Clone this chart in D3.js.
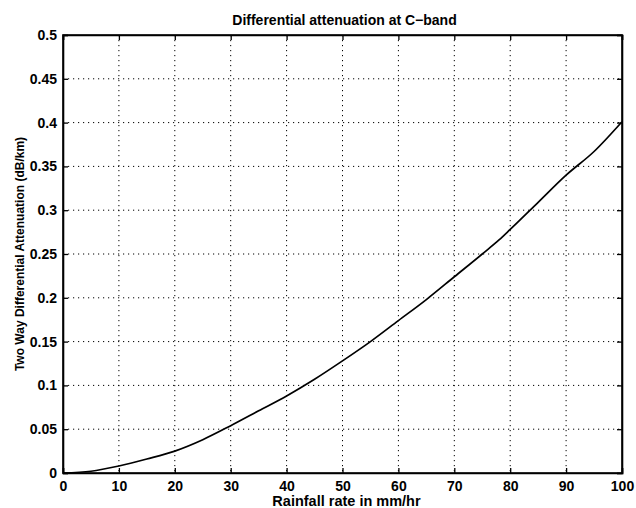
<!DOCTYPE html>
<html><head><meta charset="utf-8">
<script src="https://cdn.jsdelivr.net/npm/d3@7"></script>
<style>body{margin:0;background:#fff}svg{display:block}text{font-family:"Liberation Sans",Arial,sans-serif}</style>
</head><body>
<svg id="c" width="636" height="508"></svg>
<script>
const rainRate = [0, 5, 10, 15, 20, 25, 30, 35, 40, 45, 50, 55, 60, 65, 70, 75, 78, 80, 85, 90, 95, 100];
const diffAtten = [0, 0.002, 0.008, 0.016, 0.025, 0.038, 0.054, 0.071, 0.088, 0.107, 0.128, 0.150, 0.174, 0.198, 0.224, 0.250, 0.266, 0.278, 0.309, 0.340, 0.367, 0.401];
const xTicks = [0, 10, 20, 30, 40, 50, 60, 70, 80, 90, 100];
const yTicks = [0, 0.05, 0.1, 0.15, 0.2, 0.25, 0.3, 0.35, 0.4, 0.45, 0.5];
const titleText = "Differential attenuation at C\u2212band";
const xLabel = "Rainfall rate in mm/hr";
const yLabel = "Two Way Differential Attenuation (dB/km)";

const L = 63, R = 622, T = 35, B = 473;
const svg = d3.select("#c");
const x = d3.scaleLinear().domain([0, 100]).range([L, R]);
const y = d3.scaleLinear().domain([0, 0.5]).range([B, T]);

// grid
const g = svg.append("g");
g.selectAll(".vg").data(xTicks.slice(1, -1)).join("line")
  .attr("x1", d => x(d)).attr("x2", d => x(d)).attr("y1", T).attr("y2", B)
  .attr("stroke", "#000").attr("stroke-width", 1).attr("stroke-dasharray", "1.2,3.8");
g.selectAll(".hg").data(yTicks.slice(1, -1)).join("line")
  .attr("y1", d => y(d)).attr("y2", d => y(d)).attr("x1", L).attr("x2", R)
  .attr("stroke", "#000").attr("stroke-width", 1).attr("stroke-dasharray", "1.2,3.8");

// axes
const fmt = d => String(+d.toFixed(2));
const xa = svg.append("g").attr("transform", `translate(0,${B})`)
  .call(d3.axisBottom(x).tickValues(xTicks).tickSize(-5).tickPadding(8).tickFormat(d => d));
const xt = svg.append("g").attr("transform", `translate(0,${T})`)
  .call(d3.axisTop(x).tickValues(xTicks).tickSize(-5).tickFormat(""));
const ya = svg.append("g").attr("transform", `translate(${L},0)`)
  .call(d3.axisLeft(y).tickValues(yTicks).tickSize(-5).tickPadding(6).tickFormat(fmt));
const yr = svg.append("g").attr("transform", `translate(${R},0)`)
  .call(d3.axisRight(y).tickValues(yTicks).tickSize(-5).tickFormat(""));
[xa, xt, ya, yr].forEach(a => {
  a.select(".domain").attr("stroke", "#000").attr("stroke-width", 1.6);
  a.selectAll(".tick line").attr("stroke", "#000").attr("stroke-width", 1.3);
  a.selectAll("text").attr("fill", "#000").attr("font-size", 14).attr("font-weight", "bold")
    .style("font-family", "'Liberation Sans', Arial, sans-serif");
});
svg.append("rect").attr("x", L).attr("y", T).attr("width", R - L).attr("height", B - T)
  .attr("fill", "none").attr("stroke", "#000").attr("stroke-width", 1.6);

// curve
const pts = rainRate.map((r, i) => [r, diffAtten[i]]);
svg.append("path").datum(pts)
  .attr("d", d3.line().curve(d3.curveMonotoneX).x(d => x(d[0])).y(d => y(d[1])))
  .attr("fill", "none").attr("stroke", "#000").attr("stroke-width", 1.7);

// labels
svg.append("text").attr("x", (L + R) / 2 + 2).attr("y", 25).attr("text-anchor", "middle")
  .attr("font-size", 14).attr("font-weight", "bold").text(titleText);
svg.append("text").attr("x", (L + R) / 2 + 4).attr("y", 506).attr("text-anchor", "middle")
  .attr("font-size", 14.5).attr("font-weight", "bold").text(xLabel);
svg.append("text").attr("transform", `translate(24,${(T + B) / 2}) rotate(-90)`)
  .attr("text-anchor", "middle").attr("font-size", 12).attr("font-weight", "bold").text(yLabel);
</script>
</body></html>
